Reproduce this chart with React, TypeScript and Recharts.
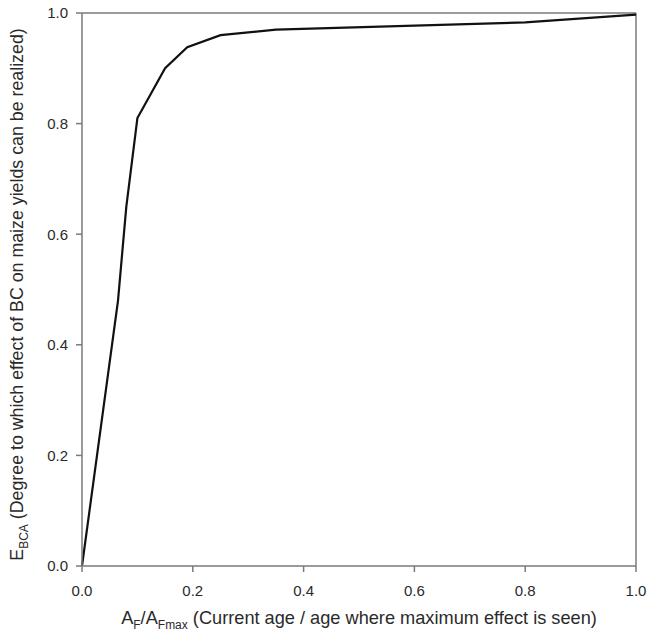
import React from 'react';
import { LineChart, Line, XAxis, YAxis, ReferenceLine } from 'recharts';

// A_F / A_Fmax values
const ageRatio = [0, 0.065, 0.08, 0.1, 0.15, 0.19, 0.25, 0.35, 0.8, 1.0];
// E_BCA values
const eBca = [0, 0.48, 0.65, 0.81, 0.9, 0.938, 0.96, 0.97, 0.983, 0.997];
const axisTicks = [0, 0.2, 0.4, 0.6, 0.8, 1.0];

const data = ageRatio.map((x, i) => ({ x, y: eBca[i] }));

const FONT = '"Liberation Sans", Arial, sans-serif';
const AXIS = '#7a7a7a';
const TEXT = '#2a2a2a';

const XLabel = ({ viewBox }: any) => {
    const cx = viewBox.x + viewBox.width / 2;
    return (
        <text x={cx} y={624} textAnchor="middle" fontSize={18.2} fontFamily={FONT} fill={TEXT}>
            A<tspan fontSize={12} dy={5}>F</tspan>
            <tspan dy={-5}>/A</tspan>
            <tspan fontSize={12} dy={5}>Fmax</tspan>
            <tspan dy={-5}> (Current age / age where maximum effect is seen)</tspan>
        </text>
    );
};

const YLabel = ({ viewBox }: any) => {
    const cy = viewBox.y + viewBox.height / 2 + 5;
    const cx = 23;
    return (
        <text
            x={cx}
            y={cy}
            textAnchor="middle"
            fontSize={17.8}
            fontFamily={FONT}
            fill={TEXT}
            transform={`rotate(-90, ${cx}, ${cy})`}
        >
            E<tspan fontSize={12} dy={5}>BCA</tspan>
            <tspan dy={-5}>{'  '}(Degree to which effect of BC on maize yields can be realized)</tspan>
        </text>
    );
};

export default function App() {
    return (
        <div style={{ position: 'absolute', left: 0, top: 0, width: 647, height: 642, background: '#fff' }}>
            <LineChart width={647} height={642} data={data} margin={{ top: 13, right: 11, left: 0, bottom: 0 }}>
                <XAxis
                    dataKey="x"
                    type="number"
                    domain={[0, 1]}
                    ticks={axisTicks}
                    tickFormatter={(v: number) => v.toFixed(1)}
                    stroke={AXIS}
                    strokeWidth={1.5}
                    tickSize={6}
                    tickMargin={13}
                    height={76}
                    tick={{ fill: TEXT, fontSize: 15, fontFamily: FONT }}
                    label={<XLabel />}
                />
                <YAxis
                    dataKey="y"
                    type="number"
                    domain={[0, 1]}
                    ticks={axisTicks}
                    tickFormatter={(v: number) => v.toFixed(1)}
                    stroke={AXIS}
                    strokeWidth={1.5}
                    tickSize={6}
                    tickMargin={8}
                    width={82}
                    tick={{ fill: TEXT, fontSize: 15, fontFamily: FONT }}
                    label={<YLabel />}
                />
                <ReferenceLine y={1} stroke={AXIS} strokeWidth={1.5} />
                <ReferenceLine x={1} stroke={AXIS} strokeWidth={1.5} />
                <Line
                    type="linear"
                    dataKey="y"
                    stroke="#111"
                    strokeWidth={2.2}
                    dot={false}
                    isAnimationActive={false}
                />
            </LineChart>
        </div>
    );
}
